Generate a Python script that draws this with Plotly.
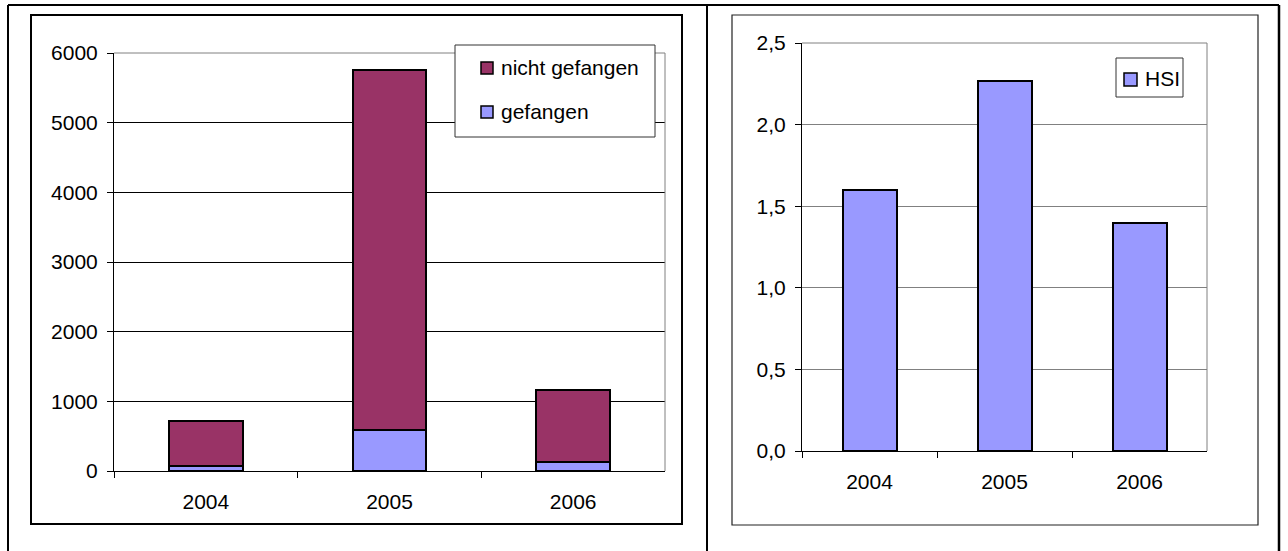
import plotly.graph_objects as go

# --- data -------------------------------------------------------------
jahre = ["2004", "2005", "2006"]
gefangen = [70, 590, 130]
nicht_gefangen = [650, 5160, 1030]
hsi = [1.6, 2.27, 1.4]

y1_tickvals = [0, 1000, 2000, 3000, 4000, 5000, 6000]
y1_ticktext = ["0", "1000", "2000", "3000", "4000", "5000", "6000"]
y2_tickvals = [0.0, 0.5, 1.0, 1.5, 2.0, 2.5]
y2_ticktext = ["0,0", "0,5", "1,0", "1,5", "2,0", "2,5"]

name_nicht = "nicht gefangen"
name_gef = "gefangen"
name_hsi = "HSI"

# --- style ------------------------------------------------------------
W, H = 1288, 551
FONT = "Liberation Sans, Arial, sans-serif"
FS = 21
C_NICHT = "#993366"
C_GEF = "#9999FF"
GREY = "#808080"


def px(x):
    return x / W


def py(y):
    return 1 - y / H


fig = go.Figure()

bar_line = dict(color="black", width=2)
fig.add_trace(go.Bar(x=jahre, y=gefangen, name=name_gef, width=0.4,
                     marker=dict(color=C_GEF, line=bar_line),
                     xaxis="x", yaxis="y", showlegend=False))
fig.add_trace(go.Bar(x=jahre, y=nicht_gefangen, name=name_nicht, width=0.4,
                     marker=dict(color=C_NICHT, line=bar_line),
                     xaxis="x", yaxis="y", showlegend=False))
fig.add_trace(go.Bar(x=jahre, y=hsi, name=name_hsi, width=0.4,
                     marker=dict(color=C_GEF, line=bar_line),
                     xaxis="x2", yaxis="y2", showlegend=False))

tickfont = dict(family=FONT, size=FS, color="black")

xcommon = dict(type="category", tickson="boundaries", ticks="outside",
               ticklen=6, tickcolor="black", showline=True, linecolor="black",
               linewidth=1, showgrid=False, zeroline=False, tickfont=tickfont,
               ticklabelstandoff=12, fixedrange=True, automargin=False)
ycommon = dict(ticks="outside", ticklen=6, tickcolor="black", showline=True,
               linecolor="black", linewidth=1, zeroline=False,
               tickfont=tickfont, ticklabelstandoff=5, fixedrange=True,
               automargin=False)

fig.update_layout(
    width=W, height=H,
    margin=dict(l=0, r=0, t=0, b=0, pad=0, autoexpand=False),
    paper_bgcolor="white", plot_bgcolor="white",
    barmode="stack",
    showlegend=False,
    font=dict(family=FONT, size=FS, color="black"),
    xaxis=dict(domain=[px(114), px(665)], anchor="y", **xcommon),
    yaxis=dict(domain=[py(471), py(53)], anchor="x", range=[0, 6000],
               tickvals=y1_tickvals, ticktext=y1_ticktext,
               showgrid=True, gridcolor="black", gridwidth=1, **ycommon),
    xaxis2=dict(domain=[px(802), px(1207)], anchor="y2", **xcommon),
    yaxis2=dict(domain=[py(451), py(43)], anchor="x2", range=[0, 2.5],
                tickvals=y2_tickvals, ticktext=y2_ticktext,
                showgrid=True, gridcolor=GREY, gridwidth=1, **ycommon),
)

shapes = []


def line(x0, y0, x1, y1, color="black", width=1):
    shapes.append(dict(type="line", xref="paper", yref="paper",
                       x0=px(x0), y0=py(y0), x1=px(x1), y1=py(y1),
                       line=dict(color=color, width=width), layer="above"))


def rect(x0, y0, x1, y1, color="black", width=1, fill="rgba(0,0,0,0)"):
    shapes.append(dict(type="rect", xref="paper", yref="paper",
                       x0=px(x0), y0=py(y0), x1=px(x1), y1=py(y1),
                       line=dict(color=color, width=width), fillcolor=fill,
                       layer="above"))


# table frame
line(8, 5, 1279, 5, width=2)
line(8, 5, 8, 551, width=2)
line(707, 5, 707, 551, width=2)
line(1279, 5, 1279, 551, width=2.5)

# chart frames
rect(31, 15, 682, 524, color="black", width=2)
rect(732, 15, 1258, 525, color="#222222", width=1.2)

# plot area top / right borders
line(114, 53, 665, 53, color=GREY)
line(665, 53, 665, 471, color=GREY)
line(802, 43, 1207, 43, color=GREY)
line(1207, 43, 1207, 451, color=GREY)

# legend boxes
rect(455, 45, 655, 137, color="#333333", width=1, fill="white")
rect(1116, 58, 1183, 97, color="#333333", width=1, fill="white")

# legend keys
rect(481, 62, 493, 74, color="black", width=1.5, fill=C_NICHT)
rect(481, 106, 493, 118, color="black", width=1.5, fill=C_GEF)
rect(1124, 73, 1137, 86, color="black", width=1.5, fill=C_GEF)

fig.update_layout(shapes=shapes)

annotations = []
for text, x, y in [(name_nicht, 499, 68), (name_gef, 499, 112), (name_hsi, 1143, 79)]:
    annotations.append(dict(text=text, xref="paper", yref="paper",
                            x=px(x), y=py(y), xanchor="left", yanchor="middle",
                            showarrow=False,
                            font=dict(family=FONT, size=FS, color="black")))
fig.update_layout(annotations=annotations)

fig.write_html("out.html")
